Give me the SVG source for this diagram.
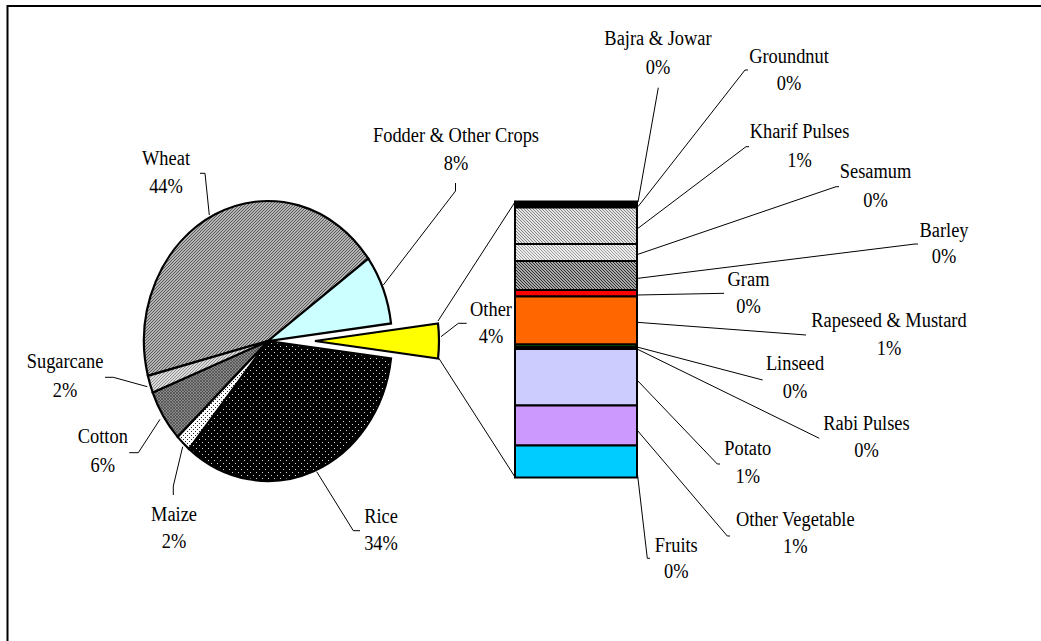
<svg xmlns="http://www.w3.org/2000/svg" width="1041" height="641" viewBox="0 0 1041 641">
<defs>
<pattern id="pWheat" width="3" height="3" patternUnits="userSpaceOnUse">
<rect width="3" height="3" fill="#b4b4b4"/>
<path d="M-1,1 L1,-1 M0,3 L3,0 M2,4 L4,2" stroke="#505050" stroke-width="0.9"/>
</pattern>
<pattern id="pSugar" width="3" height="3" patternUnits="userSpaceOnUse">
<rect width="3" height="3" fill="#dcdcdc"/>
<path d="M-1,1 L1,-1 M0,3 L3,0 M2,4 L4,2" stroke="#7a7a7a" stroke-width="0.8"/>
</pattern>
<pattern id="pCotton" width="3" height="3" patternUnits="userSpaceOnUse">
<rect width="3" height="3" fill="#8a8a8a"/>
<path d="M-1,1 L1,-1 M0,3 L3,0 M2,4 L4,2 M-1,2 L1,4 M0,0 L3,3 M2,-1 L4,1" stroke="#3a3a3a" stroke-width="0.6"/>
</pattern>
<pattern id="pRice" width="6" height="6" patternUnits="userSpaceOnUse">
<rect width="6" height="6" fill="#000"/>
<rect x="1" y="1" width="1" height="1" fill="#d8d8d8"/>
<rect x="4" y="4" width="1" height="1" fill="#d8d8d8"/>
</pattern>
<pattern id="pMaize" width="4" height="4" patternUnits="userSpaceOnUse">
<rect width="4" height="4" fill="#fff"/>
<rect x="1" y="1" width="1" height="1" fill="#222"/>
<rect x="3" y="3" width="1" height="1" fill="#222"/>
</pattern>
<pattern id="pKharif" width="3" height="3" patternUnits="userSpaceOnUse">
<rect width="3" height="3" fill="#e6e6e6"/>
<path d="M-1,2 L1,4 M0,0 L3,3 M2,-1 L4,1" stroke="#6a6a6a" stroke-width="0.8"/>
</pattern>
<pattern id="pSesamum" width="3" height="3" patternUnits="userSpaceOnUse">
<rect width="3" height="3" fill="#ececec"/>
<path d="M-1,2 L1,4 M0,0 L3,3 M2,-1 L4,1" stroke="#8a8a8a" stroke-width="0.8"/>
</pattern>
<pattern id="pBarley" width="3" height="3" patternUnits="userSpaceOnUse">
<rect width="3" height="3" fill="#a8a8a8"/>
<path d="M-1,2 L1,4 M0,0 L3,3 M2,-1 L4,1" stroke="#222" stroke-width="0.9"/>
</pattern>
</defs>
<style>
.slice{stroke:#000;stroke-width:2.2;stroke-linejoin:miter}
.seg{stroke:#000;stroke-width:2}
.lbl{font-family:"Liberation Serif","Times New Roman",serif;font-size:18.4px;fill:#000;text-anchor:middle}
.lead{fill:none;stroke:#000;stroke-width:1}
.frame{fill:none;stroke:#000;stroke-width:2}
</style>
<rect width="1041" height="641" fill="#fff"/>
<path class="frame" d="M7.5,641 L7.5,6 L1041,6"/>

<g id="connectors">
<path class="lead" d="M438,321 L515,202"/>
<path class="lead" d="M438,357 L515,477"/>
<path class="lead" d="M200,173.3 L205,173.3 L209.3,215"/>
<path class="lead" d="M455.5,183 L455.5,191 L383.3,285"/>
<path class="lead" d="M441,336.7 L458.3,323.3 L466.7,323.3"/>
<path class="lead" d="M105,377.3 L113.3,377.3 L147.3,386.7"/>
<path class="lead" d="M129.3,452.7 L138.3,452.7 L160,419.3"/>
<path class="lead" d="M173.3,495 L173.3,486 L182.7,446.7"/>
<path class="lead" d="M360,530.7 L353.3,530.7 L316.7,471.7"/>
<path class="lead" d="M658.3,87.7 L638,202"/>
<path class="lead" d="M748,70 L745,70 L638,206.7"/>
<path class="lead" d="M749,146.7 L746,146.7 L638,228.3"/>
<path class="lead" d="M839,186.7 L836,186.7 L638,254.3"/>
<path class="lead" d="M918,244 L915,244 L638,278.3"/>
<path class="lead" d="M724,293.3 L637,295"/>
<path class="lead" d="M806,335 L637,322.3"/>
<path class="lead" d="M762.7,380 L637,347"/>
<path class="lead" d="M819.3,438.3 L637,349"/>
<path class="lead" d="M720,464 L717.3,464 L637,380"/>
<path class="lead" d="M730,536 L727.3,536 L637,430"/>
<path class="lead" d="M650,558.3 L647.3,558.3 L637,470"/>
</g>

<g id="slice-wheat">
<path class="slice" fill="url(#pWheat)" d="M268,341 L147.9,375.82 A124,140 0 0 1 368.32,258.71 Z"/>
<text class="lbl" transform="translate(166,165) scale(1,1.13)"><tspan x="0" y="0">Wheat</tspan><tspan x="0" y="24.9">44%</tspan></text>
</g>
<g id="slice-fodder">
<path class="slice" fill="#ccffff" d="M268,341 L368.32,258.71 A124,140 0 0 1 391.02,323.45 Z"/>
<text class="lbl" transform="translate(456,141.7) scale(1,1.13)"><tspan x="0" y="0">Fodder &amp; Other Crops</tspan><tspan x="0" y="24.9">8%</tspan></text>
</g>
<g id="slice-other">
<path class="slice" fill="#ffff00" d="M315,341 L438.02,323.45 A124,140 0 0 1 438.02,358.55 Z"/>
<text class="lbl" transform="translate(491,316) scale(1,1.13)"><tspan x="0" y="0">Other</tspan><tspan x="0" y="24.2">4%</tspan></text>
</g>
<g id="slice-rice">
<path class="slice" fill="url(#pRice)" d="M268,341 L391.02,358.55 A124,140 0 0 1 188.96,448.87 Z"/>
<text class="lbl" transform="translate(381,522.7) scale(1,1.13)"><tspan x="0" y="0">Rice</tspan><tspan x="0" y="24.2">34%</tspan></text>
</g>
<g id="slice-maize">
<path class="slice" fill="url(#pMaize)" d="M268,341 L188.96,448.87 A124,140 0 0 1 177.61,436.84 Z"/>
<text class="lbl" transform="translate(174,520.7) scale(1,1.13)"><tspan x="0" y="0">Maize</tspan><tspan x="0" y="24.4">2%</tspan></text>
</g>
<g id="slice-cotton">
<path class="slice" fill="url(#pCotton)" d="M268,341 L177.61,436.84 A124,140 0 0 1 152.71,392.54 Z"/>
<text class="lbl" transform="translate(102.8,443.3) scale(1,1.13)"><tspan x="0" y="0">Cotton</tspan><tspan x="0" y="25.1">6%</tspan></text>
</g>
<g id="slice-sugarcane">
<path class="slice" fill="url(#pSugar)" d="M268,341 L152.71,392.54 A124,140 0 0 1 147.9,375.82 Z"/>
<text class="lbl" transform="translate(65,368.3) scale(1,1.13)"><tspan x="0" y="0">Sugarcane</tspan><tspan x="0" y="25.1">2%</tspan></text>
</g>

<g id="bar-bajra">
<rect class="seg" x="515" y="201.5" width="122" height="3" fill="#000"/>
<text class="lbl" transform="translate(658,45) scale(1,1.13)"><tspan x="0" y="0">Bajra &amp; Jowar</tspan><tspan x="0" y="25.3">0%</tspan></text>
</g>
<g id="bar-groundnut">
<rect class="seg" x="515" y="204.5" width="122" height="3" fill="#000"/>
<text class="lbl" transform="translate(789,62.7) scale(1,1.13)"><tspan x="0" y="0">Groundnut</tspan><tspan x="0" y="24.2">0%</tspan></text>
</g>
<g id="bar-kharif">
<rect class="seg" x="515" y="207.5" width="122" height="36.5" fill="url(#pKharif)"/>
<text class="lbl" transform="translate(799.5,138.3) scale(1,1.13)"><tspan x="0" y="0">Kharif Pulses</tspan><tspan x="0" y="25.1">1%</tspan></text>
</g>
<g id="bar-sesamum">
<rect class="seg" x="515" y="244" width="122" height="17" fill="url(#pSesamum)"/>
<text class="lbl" transform="translate(875.5,178.3) scale(1,1.13)"><tspan x="0" y="0">Sesamum</tspan><tspan x="0" y="25.1">0%</tspan></text>
</g>
<g id="bar-barley">
<rect class="seg" x="515" y="261" width="122" height="29" fill="url(#pBarley)"/>
<text class="lbl" transform="translate(944,236.7) scale(1,1.13)"><tspan x="0" y="0">Barley</tspan><tspan x="0" y="23.6">0%</tspan></text>
</g>
<g id="bar-gram">
<rect class="seg" x="515" y="290" width="122" height="6.5" fill="#ff0000"/>
<text class="lbl" transform="translate(748.5,286) scale(1,1.13)"><tspan x="0" y="0">Gram</tspan><tspan x="0" y="24.2">0%</tspan></text>
</g>
<g id="bar-rapeseed">
<rect class="seg" x="515" y="296.5" width="122" height="48" fill="#ff6600"/>
<text class="lbl" transform="translate(889,327.3) scale(1,1.13)"><tspan x="0" y="0">Rapeseed &amp; Mustard</tspan><tspan x="0" y="24.5">1%</tspan></text>
</g>
<g id="bar-linseed">
<rect class="seg" x="515" y="344.5" width="122" height="2.5" fill="#008000"/>
<text class="lbl" transform="translate(795,370) scale(1,1.13)"><tspan x="0" y="0">Linseed</tspan><tspan x="0" y="25">0%</tspan></text>
</g>
<g id="bar-rabi">
<rect class="seg" x="515" y="347" width="122" height="2" fill="#000"/>
<text class="lbl" transform="translate(866.5,430) scale(1,1.13)"><tspan x="0" y="0">Rabi Pulses</tspan><tspan x="0" y="23.6">0%</tspan></text>
</g>
<g id="bar-potato">
<rect class="seg" x="515" y="349" width="122" height="56.5" fill="#ccccff"/>
<text class="lbl" transform="translate(747.8,455.3) scale(1,1.13)"><tspan x="0" y="0">Potato</tspan><tspan x="0" y="24.8">1%</tspan></text>
</g>
<g id="bar-othervegetable">
<rect class="seg" x="515" y="405.5" width="122" height="40" fill="#cc99ff"/>
<text class="lbl" transform="translate(795.3,526) scale(1,1.13)"><tspan x="0" y="0">Other Vegetable</tspan><tspan x="0" y="24.2">1%</tspan></text>
</g>
<g id="bar-fruits">
<rect class="seg" x="515" y="445.5" width="122" height="32" fill="#00ccff"/>
<text class="lbl" transform="translate(676.3,551.7) scale(1,1.13)"><tspan x="0" y="0">Fruits</tspan><tspan x="0" y="23.6">0%</tspan></text>
</g>
</svg>
